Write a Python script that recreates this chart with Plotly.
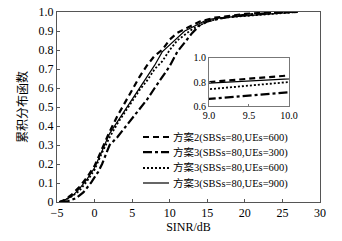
import plotly.graph_objects as go

# ---- data ----
x_s2_600 = [-4.7, -4, -3, -2, -1, 0, 1, 2, 3, 4, 5, 6, 7, 8, 9, 10, 11, 12, 13, 14, 16, 18, 20, 22, 25, 27]
y_s2_600 = [0, 0.01, 0.04, 0.08, 0.13, 0.19, 0.28, 0.37, 0.45, 0.52, 0.59, 0.66, 0.72, 0.77, 0.80, 0.855, 0.89, 0.91, 0.93, 0.95, 0.97, 0.98, 0.99, 0.995, 1.0, 1.0]

x_s3_300 = [-4.5, -3.5, -2.5, -1.5, -0.5, 0.5, 1.0, 1.5, 2.0, 2.5, 3.0, 4.0, 5.0, 6.0, 7.0, 8.0, 9.0, 10.0, 11.0, 12.0, 13.0, 14.0, 15.0, 16, 18, 20, 22, 25, 27]
y_s3_300 = [0, 0.005, 0.02, 0.05, 0.1, 0.16, 0.2, 0.25, 0.3, 0.32, 0.34, 0.39, 0.44, 0.49, 0.54, 0.60, 0.66, 0.715, 0.79, 0.84, 0.89, 0.93, 0.95, 0.96, 0.975, 0.985, 0.99, 1.0, 1.0]

x_s3_600 = [-4.7, -4, -3, -2, -1, 0, 1, 2, 3, 4, 5, 6, 7, 8, 9, 10, 11, 12, 13, 14, 15, 17, 20, 23, 26, 27]
y_s3_600 = [0, 0.01, 0.03, 0.06, 0.11, 0.17, 0.26, 0.34, 0.41, 0.47, 0.53, 0.59, 0.64, 0.70, 0.74, 0.80, 0.85, 0.88, 0.91, 0.93, 0.95, 0.97, 0.98, 0.99, 1.0, 1.0]

x_s3_900 = [-4.7, -4, -3, -2, -1, 0, 1, 2, 3, 4, 5, 6, 7, 8, 9, 10, 11, 12, 13, 14, 15, 17, 20, 23, 26, 27]
y_s3_900 = [0, 0.01, 0.03, 0.07, 0.12, 0.18, 0.27, 0.36, 0.42, 0.48, 0.54, 0.60, 0.66, 0.72, 0.79, 0.825, 0.86, 0.90, 0.92, 0.94, 0.96, 0.97, 0.98, 0.99, 1.0, 1.0]

names = ["方案2(SBSs=80,UEs=600)", "方案3(SBSs=80,UEs=300)",
         "方案3(SBSs=80,UEs=600)", "方案3(SBSs=80,UEs=900)"]

y_tickvals = [0, 0.1, 0.2, 0.3, 0.4, 0.5, 0.6, 0.7, 0.8, 0.9, 1.0]
y_ticktext = ["0", "0.1", "0.2", "0.3", "0.4", "0.5", "0.6", "0.7", "0.8", "0.9", "1.0"]
x_tickvals = [-5, 0, 5, 10, 15, 20, 25, 30]
inset_xticks = [9.0, 9.5, 10.0]
inset_xtext = ["9.0", "9.5", "10.0"]
inset_yticks = [0.6, 0.8, 1.0]
inset_ytext = ["0.6", "0.8", "1.0"]

FONT = "Liberation Serif, Noto Sans CJK SC"
styles = [
    dict(color="black", width=2.2, dash="6px,4px"),
    dict(color="black", width=2.2, dash="dashdot"),
    dict(color="black", width=1.8, dash="2px,2px"),
    dict(color="black", width=1.2, dash="solid"),
]
series = [(x_s2_600, y_s2_600), (x_s3_300, y_s3_300), (x_s3_600, y_s3_600), (x_s3_900, y_s3_900)]

fig = go.Figure()
for (xs, ys), st, nm in zip(series, styles, names):
    fig.add_trace(go.Scatter(x=xs, y=ys, mode="lines", line=st, name=nm,
                             showlegend=False, xaxis="x", yaxis="y"))
for (xs, ys), st, nm in zip(series, styles, names):
    fig.add_trace(go.Scatter(x=xs, y=ys, mode="lines", line=st, name=nm,
                             showlegend=False, xaxis="x2", yaxis="y2"))

# manual legend (compact rows)
row_y = [0.342, 0.263, 0.179, 0.100]
for st, nm, ry in zip(styles, names, row_y):
    fig.add_shape(type="line", xref="paper", yref="paper", x0=0.327, x1=0.426,
                  y0=ry, y1=ry, line=st)
    fig.add_annotation(xref="paper", yref="paper", x=0.433, y=ry, text=nm,
                       showarrow=False, xanchor="left", yanchor="middle",
                       font=dict(family=FONT, size=10.5, color="black"))

axis_common = dict(showgrid=False, zeroline=False, showline=True, mirror=True,
                   linecolor="#555", linewidth=1, ticks="inside", ticklen=3,
                   tickcolor="#555", automargin=False,
                   tickfont=dict(family=FONT, size=12, color="black"))

fig.update_layout(
    width=342, height=241,
    margin=dict(l=57, r=22, t=12, b=39, autoexpand=False),
    paper_bgcolor="white", plot_bgcolor="white",
    showlegend=False,
    font=dict(family=FONT, size=12, color="black"),
    xaxis=dict(range=[-5, 30], tickvals=x_tickvals, **axis_common,
               title=dict(text="SINR/dB", font=dict(family=FONT, size=12), standoff=2)),
    yaxis=dict(range=[0, 1.0], tickvals=y_tickvals, ticktext=y_ticktext, **axis_common,
               title=dict(text="累积分布函数", font=dict(family=FONT, size=12), standoff=8)),
    xaxis2=dict(domain=[0.578, 0.882], anchor="y2", range=[9, 10],
                tickvals=inset_xticks, ticktext=inset_xtext, automargin=False,
                showgrid=False, zeroline=False, showline=True, mirror=True,
                linecolor="#777", ticks="inside", ticklen=2, tickcolor="#777",
                tickfont=dict(family=FONT, size=10, color="black")),
    yaxis2=dict(domain=[0.505, 0.758], anchor="x2", range=[0.6, 1.0],
                tickvals=inset_yticks, ticktext=inset_ytext, automargin=False,
                showgrid=False, zeroline=False, showline=True, mirror=True,
                linecolor="#777", ticks="inside", ticklen=2, tickcolor="#777",
                tickfont=dict(family=FONT, size=10, color="black")),
)

fig.write_html("out.html", config={"displayModeBar": False},
               post_script="document.body.style.margin='0';")
